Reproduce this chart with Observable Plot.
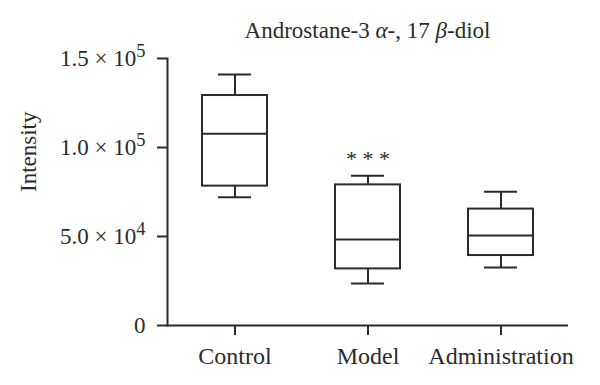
<!DOCTYPE html>
<html><head><meta charset="utf-8">
<script src="https://cdn.jsdelivr.net/npm/d3@7"></script>
<script src="https://cdn.jsdelivr.net/npm/@observablehq/plot@0.6"></script>
<style>
body{margin:0;background:#fff;font-family:"Liberation Serif",serif;color:#231f20;}
#title{height:36px;box-sizing:border-box;padding-top:19px;font-size:23px;line-height:23px;text-align:center;margin-left:167px;width:401px;white-space:nowrap;color:#2b2b2b;}
#chart svg{display:block;overflow:visible;}
#chart svg, #chart svg text, #chart svg tspan, #chart svg g{font-family:"Liberation Serif",serif !important;}
</style></head><body>
<div id="title">Androstane-3 <i>α</i>-, 17 <i>β</i>-diol</div>
<div id="chart"></div>
<script>
const groups = ["Control", "Model", "Administration"];
const whiskerLow = [72100, 23600, 32600];
const q1 = [78300, 31800, 39300];
const median = [107700, 48300, 50600];
const q3 = [129200, 79000, 65400];
const whiskerHigh = [141000, 84100, 75100];
const yTicks = [0, 50000, 100000, 150000];
const yTickMantissa = ["0", "5.0 × 10", "1.0 × 10", "1.5 × 10"];
const yTickExponent = ["", "4", "5", "5"];
const significance = [{group: "Model", y: 95000, label: "* * *"}];
const yLabel = ["Intensity"];

const boxes = groups.map((g, i) => ({group: g, lo: whiskerLow[i], q1: q1[i], med: median[i], q3: q3[i], hi: whiskerHigh[i]}));
const ink = "#2b2b2b";
const serif = "Liberation Serif";

const plot = Plot.plot({
  width: 600, height: 349,
  marginTop: 22, marginBottom: 60, marginLeft: 167, marginRight: 32,
  style: {fontFamily: serif, fontSize: "21px", color: ink, background: "transparent", overflow: "visible"},
  x: {domain: groups, padding: 0, label: null},
  y: {domain: [0, 150000], label: null},
  marks: [
    Plot.ruleX(boxes, {x: "group", y1: "lo", y2: "q1", stroke: ink, strokeWidth: 2}),
    Plot.ruleX(boxes, {x: "group", y1: "q3", y2: "hi", stroke: ink, strokeWidth: 2}),
    Plot.tickY(boxes, {x: "group", y: "lo", insetLeft: 50, insetRight: 50, stroke: ink, strokeWidth: 2}),
    Plot.tickY(boxes, {x: "group", y: "hi", insetLeft: 50, insetRight: 50, stroke: ink, strokeWidth: 2}),
    Plot.barY(boxes, {x: "group", y1: "q1", y2: "q3", fill: "white", stroke: ink, strokeWidth: 2, insetLeft: 34, insetRight: 34}),
    Plot.tickY(boxes, {x: "group", y: "med", insetLeft: 34, insetRight: 34, stroke: ink, strokeWidth: 2}),
    Plot.text(significance, {x: "group", y: "y", text: "label", fontSize: 22, fill: ink, fontFamily: serif, dy: 3}),
    Plot.ruleY([0], {stroke: ink, strokeWidth: 2}),
    Plot.frame({anchor: "left", stroke: ink, strokeWidth: 2}),
    Plot.axisY({ticks: yTicks, tickFormat: d => { const i = yTicks.indexOf(d); return yTickMantissa[i] + (yTickExponent[i] ? "^" + yTickExponent[i] : ""); },
      tickSize: 10, tickPadding: 12, strokeWidth: 2, stroke: ink, fill: ink, label: null, fontSize: 23, fontFamily: serif}),
    Plot.axisX({tickSize: 10, tickPadding: 11, strokeWidth: 2, stroke: ink, fill: ink, label: null, fontSize: 24, fontFamily: serif}),
    Plot.text(yLabel, {frameAnchor: "left", rotate: -90, dx: -139, fontSize: 23, fill: ink, fontFamily: serif})
  ]
});
document.getElementById("chart").appendChild(plot);

// render exponents as real superscripts
d3.select(plot).selectAll("text").each(function() {
  const t = this.textContent;
  const k = t.indexOf("^");
  if (k < 0) return;
  const el = d3.select(this);
  const base = t.slice(0, k), exp = t.slice(k + 1);
  el.text(null);
  el.append("tspan").text(base);
  el.append("tspan").attr("dy", "-0.5em").attr("font-size", "0.8em").text(exp);
});
</script>
</body></html>
